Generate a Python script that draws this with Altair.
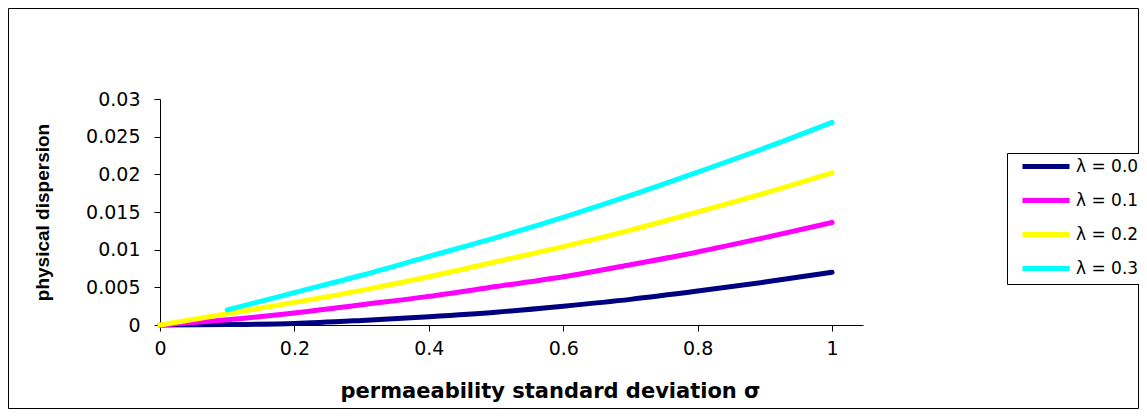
import altair as alt
import pandas as pd

sigma = [0.0, 0.1, 0.2, 0.3, 0.4, 0.5, 0.6, 0.7, 0.8, 0.9, 1.0]
lam00 = [0.0, 0.00005, 0.0002, 0.0006, 0.0011, 0.0017, 0.0025, 0.0034, 0.0045, 0.0057, 0.0070]
lam01 = [0.0, 0.0007, 0.0016, 0.0027, 0.0038, 0.0051, 0.0064, 0.0080, 0.0097, 0.0116, 0.0136]
lam02 = [0.0, 0.0015, 0.0030, 0.0046, 0.0064, 0.0084, 0.0104, 0.0126, 0.0150, 0.0175, 0.0202]
lam03 = [None, 0.0020, 0.0043, 0.0066, 0.0091, 0.0116, 0.0143, 0.0172, 0.0203, 0.0235, 0.0269]

series_names = ["λ = 0.0", "λ = 0.1", "λ = 0.2", "λ = 0.3"]
series_vals = [lam00, lam01, lam02, lam03]
colors = ["#000080", "#FF00FF", "#FFFF00", "#00FFFF"]

x_ticks = [0, 0.2, 0.4, 0.6, 0.8, 1.0]
y_ticks = [0, 0.005, 0.01, 0.015, 0.02, 0.025, 0.03]

rows = []
for i, (name, vals) in enumerate(zip(series_names, series_vals)):
    for s, v in zip(sigma, vals):
        if v is not None:
            rows.append({"sigma": s, "disp": v, "series": name, "order": i})
df = pd.DataFrame(rows)

W, H = 703, 226
PL, PT, PR, PB = 152, 91, 276, 84

lines = alt.Chart(df).mark_line(strokeWidth=5, strokeCap="round", interpolate="monotone").encode(
    x=alt.X("sigma:Q",
            scale=alt.Scale(domain=[0, 1.046], nice=False, zero=False),
            axis=alt.Axis(values=x_ticks, format="~f", grid=False, labelFlush=False,
                          title="permaeability standard deviation  σ",
                          titleFont="DejaVu Sans", titleFontSize=21, titleFontWeight="bold",
                          titleX=390, titleY=72, titleAlign="center", titleBaseline="alphabetic",
                          labelFont="DejaVu Sans", labelFontSize=19, labelPadding=8,
                          labelColor="black", tickColor="black", domainColor="black",
                          tickSize=6, titleColor="black")),
    y=alt.Y("disp:Q",
            scale=alt.Scale(domain=[0, 0.03], nice=False),
            axis=alt.Axis(values=y_ticks, format="~f", grid=False, labelFlush=False,
                          title="physical dispersion",
                          titleFont="Liberation Sans", titleFontSize=19, titleFontWeight="bold",
                          titleX=-112, titleY=113, titleAlign="center", titleBaseline="alphabetic",
                          titleAngle=-90,
                          labelFont="DejaVu Sans", labelFontSize=19, labelPadding=14,
                          labelColor="black", tickColor="black", domainColor="black",
                          tickSize=6, titleColor="black")),
    color=alt.Color("series:N",
                    scale=alt.Scale(domain=series_names, range=colors),
                    legend=alt.Legend(title=None, orient="none", legendX=847, legendY=54,
                                      strokeColor="black", padding=5, fillColor="white",
                                      symbolType="M0.4,0H9.8", symbolSize=100,
                                      symbolStrokeWidth=5, labelOffset=47,
                                      labelFont="DejaVu Sans", labelFontSize=17,
                                      labelColor="black", rowPadding=13)),
    order=alt.Order("order:Q"),
    detail="series:N",
)

frame_df = pd.DataFrame({"k": [0]})
frame = alt.Chart(frame_df).mark_rect(fill="white", fillOpacity=0, stroke="black", strokeWidth=1).encode(
    x=alt.value(-PL + 0.5), x2=alt.value(W + PR - 0.5),
    y=alt.value(-PT + 0.5), y2=alt.value(H + PB - 0.5),
)

chart = alt.layer(frame, lines).properties(
    width=W, height=H,
    background="white",
    autosize=alt.AutoSizeParams(type="none"),
    padding={"left": PL, "top": PT, "right": PR, "bottom": PB},
).configure_view(stroke="transparent", strokeWidth=0)

chart.save("out.html", embed_options={"renderer": "svg", "actions": False})
